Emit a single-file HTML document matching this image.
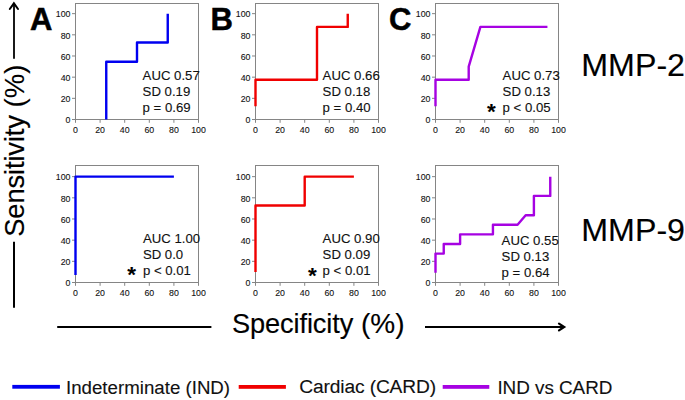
<!DOCTYPE html>
<html><head><meta charset="utf-8">
<style>
html,body{margin:0;padding:0;background:#fff;}
body{width:685px;height:400px;overflow:hidden;position:relative;}
svg{position:absolute;left:0;top:0;}
text{font-family:"Liberation Sans",sans-serif;fill:#1a1a1a;}
.tk{font-size:8.8px;fill:#111;stroke:#111;stroke-width:0.1px;}
.au{font-size:13.2px;fill:#111;stroke:#111;stroke-width:0.12px;}
.st{font-size:22.5px;font-weight:bold;fill:#000;}
.lt{font-size:31px;font-weight:bold;fill:#000;stroke:#000;stroke-width:0.5px;}
.big{font-size:27.2px;fill:#000;stroke:#000;stroke-width:0.15px;}
.mmp{font-size:32.2px;fill:#000;stroke:#000;stroke-width:0.15px;}
.lg{font-size:18.7px;fill:#111;stroke:#111;stroke-width:0.12px;}
</style></head>
<body>
<svg width="685" height="400" viewBox="0 0 685 400">
<rect x="0" y="0" width="685" height="400" fill="#fff"/>
<text x="30" y="30" class="lt">A</text>
<text x="210.5" y="30" class="lt">B</text>
<text x="389" y="30" class="lt">C</text>
<rect x="75.5" y="3.50" width="123.00" height="116.00" fill="none" stroke="#858585" stroke-width="1"/>
<line x1="72.0" y1="119.50" x2="75.5" y2="119.50" stroke="#858585" stroke-width="1"/>
<text x="70.5" y="123.30" class="tk" text-anchor="end">0</text>
<line x1="75.50" y1="119.5" x2="75.50" y2="122.8" stroke="#858585" stroke-width="1"/>
<text x="75.50" y="132.60" class="tk" text-anchor="middle">0</text>
<line x1="72.0" y1="98.33" x2="75.5" y2="98.33" stroke="#858585" stroke-width="1"/>
<text x="70.5" y="102.13" class="tk" text-anchor="end">20</text>
<line x1="100.10" y1="119.5" x2="100.10" y2="122.8" stroke="#858585" stroke-width="1"/>
<text x="100.10" y="132.60" class="tk" text-anchor="middle">20</text>
<line x1="72.0" y1="77.16" x2="75.5" y2="77.16" stroke="#858585" stroke-width="1"/>
<text x="70.5" y="80.96" class="tk" text-anchor="end">40</text>
<line x1="124.70" y1="119.5" x2="124.70" y2="122.8" stroke="#858585" stroke-width="1"/>
<text x="124.70" y="132.60" class="tk" text-anchor="middle">40</text>
<line x1="72.0" y1="55.99" x2="75.5" y2="55.99" stroke="#858585" stroke-width="1"/>
<text x="70.5" y="59.79" class="tk" text-anchor="end">60</text>
<line x1="149.30" y1="119.5" x2="149.30" y2="122.8" stroke="#858585" stroke-width="1"/>
<text x="149.30" y="132.60" class="tk" text-anchor="middle">60</text>
<line x1="72.0" y1="34.82" x2="75.5" y2="34.82" stroke="#858585" stroke-width="1"/>
<text x="70.5" y="38.62" class="tk" text-anchor="end">80</text>
<line x1="173.90" y1="119.5" x2="173.90" y2="122.8" stroke="#858585" stroke-width="1"/>
<text x="173.90" y="132.60" class="tk" text-anchor="middle">80</text>
<line x1="72.0" y1="13.65" x2="75.5" y2="13.65" stroke="#858585" stroke-width="1"/>
<text x="70.5" y="17.45" class="tk" text-anchor="end">100</text>
<line x1="198.50" y1="119.5" x2="198.50" y2="122.8" stroke="#858585" stroke-width="1"/>
<text x="198.50" y="132.60" class="tk" text-anchor="middle">100</text>
<path d="M106.25,119.50 L106.25,61.81 L137.00,61.81 L137.00,42.55 L167.75,42.55 L167.75,13.65" fill="none" stroke="#0000f0" stroke-width="2.4" stroke-linejoin="round" stroke-linecap="butt"/>
<text x="142.60" y="80.00" class="au">AUC 0.57</text>
<text x="142.60" y="96.00" class="au">SD 0.19</text>
<text x="142.60" y="112.00" class="au">p = 0.69</text>
<rect x="255.5" y="3.50" width="123.00" height="116.00" fill="none" stroke="#858585" stroke-width="1"/>
<line x1="252.0" y1="119.50" x2="255.5" y2="119.50" stroke="#858585" stroke-width="1"/>
<text x="250.5" y="123.30" class="tk" text-anchor="end">0</text>
<line x1="255.50" y1="119.5" x2="255.50" y2="122.8" stroke="#858585" stroke-width="1"/>
<text x="255.50" y="132.60" class="tk" text-anchor="middle">0</text>
<line x1="252.0" y1="98.33" x2="255.5" y2="98.33" stroke="#858585" stroke-width="1"/>
<text x="250.5" y="102.13" class="tk" text-anchor="end">20</text>
<line x1="280.10" y1="119.5" x2="280.10" y2="122.8" stroke="#858585" stroke-width="1"/>
<text x="280.10" y="132.60" class="tk" text-anchor="middle">20</text>
<line x1="252.0" y1="77.16" x2="255.5" y2="77.16" stroke="#858585" stroke-width="1"/>
<text x="250.5" y="80.96" class="tk" text-anchor="end">40</text>
<line x1="304.70" y1="119.5" x2="304.70" y2="122.8" stroke="#858585" stroke-width="1"/>
<text x="304.70" y="132.60" class="tk" text-anchor="middle">40</text>
<line x1="252.0" y1="55.99" x2="255.5" y2="55.99" stroke="#858585" stroke-width="1"/>
<text x="250.5" y="59.79" class="tk" text-anchor="end">60</text>
<line x1="329.30" y1="119.5" x2="329.30" y2="122.8" stroke="#858585" stroke-width="1"/>
<text x="329.30" y="132.60" class="tk" text-anchor="middle">60</text>
<line x1="252.0" y1="34.82" x2="255.5" y2="34.82" stroke="#858585" stroke-width="1"/>
<text x="250.5" y="38.62" class="tk" text-anchor="end">80</text>
<line x1="353.90" y1="119.5" x2="353.90" y2="122.8" stroke="#858585" stroke-width="1"/>
<text x="353.90" y="132.60" class="tk" text-anchor="middle">80</text>
<line x1="252.0" y1="13.65" x2="255.5" y2="13.65" stroke="#858585" stroke-width="1"/>
<text x="250.5" y="17.45" class="tk" text-anchor="end">100</text>
<line x1="378.50" y1="119.5" x2="378.50" y2="122.8" stroke="#858585" stroke-width="1"/>
<text x="378.50" y="132.60" class="tk" text-anchor="middle">100</text>
<path d="M255.50,106.27 L255.50,79.81 L317.00,79.81 L317.00,26.88 L347.75,26.88 L347.75,13.65" fill="none" stroke="#f00000" stroke-width="2.4" stroke-linejoin="round" stroke-linecap="butt"/>
<text x="322.60" y="80.00" class="au">AUC 0.66</text>
<text x="322.60" y="96.00" class="au">SD 0.18</text>
<text x="322.60" y="112.00" class="au">p = 0.40</text>
<rect x="435.5" y="3.50" width="123.00" height="116.00" fill="none" stroke="#858585" stroke-width="1"/>
<line x1="432.0" y1="119.50" x2="435.5" y2="119.50" stroke="#858585" stroke-width="1"/>
<text x="430.5" y="123.30" class="tk" text-anchor="end">0</text>
<line x1="435.50" y1="119.5" x2="435.50" y2="122.8" stroke="#858585" stroke-width="1"/>
<text x="435.50" y="132.60" class="tk" text-anchor="middle">0</text>
<line x1="432.0" y1="98.33" x2="435.5" y2="98.33" stroke="#858585" stroke-width="1"/>
<text x="430.5" y="102.13" class="tk" text-anchor="end">20</text>
<line x1="460.10" y1="119.5" x2="460.10" y2="122.8" stroke="#858585" stroke-width="1"/>
<text x="460.10" y="132.60" class="tk" text-anchor="middle">20</text>
<line x1="432.0" y1="77.16" x2="435.5" y2="77.16" stroke="#858585" stroke-width="1"/>
<text x="430.5" y="80.96" class="tk" text-anchor="end">40</text>
<line x1="484.70" y1="119.5" x2="484.70" y2="122.8" stroke="#858585" stroke-width="1"/>
<text x="484.70" y="132.60" class="tk" text-anchor="middle">40</text>
<line x1="432.0" y1="55.99" x2="435.5" y2="55.99" stroke="#858585" stroke-width="1"/>
<text x="430.5" y="59.79" class="tk" text-anchor="end">60</text>
<line x1="509.30" y1="119.5" x2="509.30" y2="122.8" stroke="#858585" stroke-width="1"/>
<text x="509.30" y="132.60" class="tk" text-anchor="middle">60</text>
<line x1="432.0" y1="34.82" x2="435.5" y2="34.82" stroke="#858585" stroke-width="1"/>
<text x="430.5" y="38.62" class="tk" text-anchor="end">80</text>
<line x1="533.90" y1="119.5" x2="533.90" y2="122.8" stroke="#858585" stroke-width="1"/>
<text x="533.90" y="132.60" class="tk" text-anchor="middle">80</text>
<line x1="432.0" y1="13.65" x2="435.5" y2="13.65" stroke="#858585" stroke-width="1"/>
<text x="430.5" y="17.45" class="tk" text-anchor="end">100</text>
<line x1="558.50" y1="119.5" x2="558.50" y2="122.8" stroke="#858585" stroke-width="1"/>
<text x="558.50" y="132.60" class="tk" text-anchor="middle">100</text>
<path d="M435.50,106.27 L435.50,79.81 L468.71,79.81 L468.71,66.58 L480.39,26.88 L547.43,26.88" fill="none" stroke="#a602e2" stroke-width="2.4" stroke-linejoin="round" stroke-linecap="butt"/>
<text x="502.60" y="80.00" class="au">AUC 0.73</text>
<text x="502.60" y="96.00" class="au">SD 0.13</text>
<text x="502.60" y="112.00" class="au">p &lt; 0.05</text>
<text x="487.00" y="119.00" class="st">*</text>
<rect x="75.5" y="165.50" width="123.00" height="117.00" fill="none" stroke="#858585" stroke-width="1"/>
<line x1="72.0" y1="282.50" x2="75.5" y2="282.50" stroke="#858585" stroke-width="1"/>
<text x="70.5" y="286.30" class="tk" text-anchor="end">0</text>
<line x1="75.50" y1="282.5" x2="75.50" y2="285.8" stroke="#858585" stroke-width="1"/>
<text x="75.50" y="295.60" class="tk" text-anchor="middle">0</text>
<line x1="72.0" y1="261.33" x2="75.5" y2="261.33" stroke="#858585" stroke-width="1"/>
<text x="70.5" y="265.13" class="tk" text-anchor="end">20</text>
<line x1="100.10" y1="282.5" x2="100.10" y2="285.8" stroke="#858585" stroke-width="1"/>
<text x="100.10" y="295.60" class="tk" text-anchor="middle">20</text>
<line x1="72.0" y1="240.16" x2="75.5" y2="240.16" stroke="#858585" stroke-width="1"/>
<text x="70.5" y="243.96" class="tk" text-anchor="end">40</text>
<line x1="124.70" y1="282.5" x2="124.70" y2="285.8" stroke="#858585" stroke-width="1"/>
<text x="124.70" y="295.60" class="tk" text-anchor="middle">40</text>
<line x1="72.0" y1="218.99" x2="75.5" y2="218.99" stroke="#858585" stroke-width="1"/>
<text x="70.5" y="222.79" class="tk" text-anchor="end">60</text>
<line x1="149.30" y1="282.5" x2="149.30" y2="285.8" stroke="#858585" stroke-width="1"/>
<text x="149.30" y="295.60" class="tk" text-anchor="middle">60</text>
<line x1="72.0" y1="197.82" x2="75.5" y2="197.82" stroke="#858585" stroke-width="1"/>
<text x="70.5" y="201.62" class="tk" text-anchor="end">80</text>
<line x1="173.90" y1="282.5" x2="173.90" y2="285.8" stroke="#858585" stroke-width="1"/>
<text x="173.90" y="295.60" class="tk" text-anchor="middle">80</text>
<line x1="72.0" y1="176.65" x2="75.5" y2="176.65" stroke="#858585" stroke-width="1"/>
<text x="70.5" y="180.45" class="tk" text-anchor="end">100</text>
<line x1="198.50" y1="282.5" x2="198.50" y2="285.8" stroke="#858585" stroke-width="1"/>
<text x="198.50" y="295.60" class="tk" text-anchor="middle">100</text>
<path d="M75.50,274.98 L75.50,176.65 L173.90,176.65" fill="none" stroke="#0000f0" stroke-width="2.4" stroke-linejoin="round" stroke-linecap="butt"/>
<text x="142.90" y="243.00" class="au">AUC 1.00</text>
<text x="142.90" y="259.00" class="au">SD 0.0</text>
<text x="142.90" y="275.00" class="au">p &lt; 0.01</text>
<text x="127.20" y="281.60" class="st">*</text>
<rect x="255.5" y="165.50" width="123.00" height="117.00" fill="none" stroke="#858585" stroke-width="1"/>
<line x1="252.0" y1="282.50" x2="255.5" y2="282.50" stroke="#858585" stroke-width="1"/>
<text x="250.5" y="286.30" class="tk" text-anchor="end">0</text>
<line x1="255.50" y1="282.5" x2="255.50" y2="285.8" stroke="#858585" stroke-width="1"/>
<text x="255.50" y="295.60" class="tk" text-anchor="middle">0</text>
<line x1="252.0" y1="261.33" x2="255.5" y2="261.33" stroke="#858585" stroke-width="1"/>
<text x="250.5" y="265.13" class="tk" text-anchor="end">20</text>
<line x1="280.10" y1="282.5" x2="280.10" y2="285.8" stroke="#858585" stroke-width="1"/>
<text x="280.10" y="295.60" class="tk" text-anchor="middle">20</text>
<line x1="252.0" y1="240.16" x2="255.5" y2="240.16" stroke="#858585" stroke-width="1"/>
<text x="250.5" y="243.96" class="tk" text-anchor="end">40</text>
<line x1="304.70" y1="282.5" x2="304.70" y2="285.8" stroke="#858585" stroke-width="1"/>
<text x="304.70" y="295.60" class="tk" text-anchor="middle">40</text>
<line x1="252.0" y1="218.99" x2="255.5" y2="218.99" stroke="#858585" stroke-width="1"/>
<text x="250.5" y="222.79" class="tk" text-anchor="end">60</text>
<line x1="329.30" y1="282.5" x2="329.30" y2="285.8" stroke="#858585" stroke-width="1"/>
<text x="329.30" y="295.60" class="tk" text-anchor="middle">60</text>
<line x1="252.0" y1="197.82" x2="255.5" y2="197.82" stroke="#858585" stroke-width="1"/>
<text x="250.5" y="201.62" class="tk" text-anchor="end">80</text>
<line x1="353.90" y1="282.5" x2="353.90" y2="285.8" stroke="#858585" stroke-width="1"/>
<text x="353.90" y="295.60" class="tk" text-anchor="middle">80</text>
<line x1="252.0" y1="176.65" x2="255.5" y2="176.65" stroke="#858585" stroke-width="1"/>
<text x="250.5" y="180.45" class="tk" text-anchor="end">100</text>
<line x1="378.50" y1="282.5" x2="378.50" y2="285.8" stroke="#858585" stroke-width="1"/>
<text x="378.50" y="295.60" class="tk" text-anchor="middle">100</text>
<path d="M255.50,271.92 L255.50,205.55 L304.70,205.55 L304.70,176.65 L353.90,176.65" fill="none" stroke="#f00000" stroke-width="2.4" stroke-linejoin="round" stroke-linecap="butt"/>
<text x="322.60" y="243.30" class="au">AUC 0.90</text>
<text x="322.60" y="259.30" class="au">SD 0.09</text>
<text x="322.60" y="275.30" class="au">p &lt; 0.01</text>
<text x="308.00" y="282.50" class="st">*</text>
<rect x="435.5" y="165.50" width="123.00" height="117.00" fill="none" stroke="#858585" stroke-width="1"/>
<line x1="432.0" y1="282.50" x2="435.5" y2="282.50" stroke="#858585" stroke-width="1"/>
<text x="430.5" y="286.30" class="tk" text-anchor="end">0</text>
<line x1="435.50" y1="282.5" x2="435.50" y2="285.8" stroke="#858585" stroke-width="1"/>
<text x="435.50" y="295.60" class="tk" text-anchor="middle">0</text>
<line x1="432.0" y1="261.33" x2="435.5" y2="261.33" stroke="#858585" stroke-width="1"/>
<text x="430.5" y="265.13" class="tk" text-anchor="end">20</text>
<line x1="460.10" y1="282.5" x2="460.10" y2="285.8" stroke="#858585" stroke-width="1"/>
<text x="460.10" y="295.60" class="tk" text-anchor="middle">20</text>
<line x1="432.0" y1="240.16" x2="435.5" y2="240.16" stroke="#858585" stroke-width="1"/>
<text x="430.5" y="243.96" class="tk" text-anchor="end">40</text>
<line x1="484.70" y1="282.5" x2="484.70" y2="285.8" stroke="#858585" stroke-width="1"/>
<text x="484.70" y="295.60" class="tk" text-anchor="middle">40</text>
<line x1="432.0" y1="218.99" x2="435.5" y2="218.99" stroke="#858585" stroke-width="1"/>
<text x="430.5" y="222.79" class="tk" text-anchor="end">60</text>
<line x1="509.30" y1="282.5" x2="509.30" y2="285.8" stroke="#858585" stroke-width="1"/>
<text x="509.30" y="295.60" class="tk" text-anchor="middle">60</text>
<line x1="432.0" y1="197.82" x2="435.5" y2="197.82" stroke="#858585" stroke-width="1"/>
<text x="430.5" y="201.62" class="tk" text-anchor="end">80</text>
<line x1="533.90" y1="282.5" x2="533.90" y2="285.8" stroke="#858585" stroke-width="1"/>
<text x="533.90" y="295.60" class="tk" text-anchor="middle">80</text>
<line x1="432.0" y1="176.65" x2="435.5" y2="176.65" stroke="#858585" stroke-width="1"/>
<text x="430.5" y="180.45" class="tk" text-anchor="end">100</text>
<line x1="558.50" y1="282.5" x2="558.50" y2="285.8" stroke="#858585" stroke-width="1"/>
<text x="558.50" y="295.60" class="tk" text-anchor="middle">100</text>
<path d="M435.50,272.87 L435.50,253.60 L443.74,253.60 L443.74,243.97 L460.10,243.97 L460.10,234.34 L492.94,234.34 L492.94,224.81 L517.54,224.81 L525.66,215.18 L533.90,215.18 L533.90,195.91 L550.26,195.91 L550.26,176.65" fill="none" stroke="#a602e2" stroke-width="2.4" stroke-linejoin="round" stroke-linecap="butt"/>
<text x="501.60" y="244.70" class="au">AUC 0.55</text>
<text x="501.60" y="260.70" class="au">SD 0.13</text>
<text x="501.60" y="276.70" class="au">p = 0.64</text>
<text x="581.3" y="76.4" class="mmp">MMP-2</text>
<text x="581.3" y="241.4" class="mmp">MMP-9</text>
<!-- y axis label + arrows -->
<line x1="14" y1="307.7" x2="14" y2="241.8" stroke="#000" stroke-width="2"/>
<line x1="14" y1="58.7" x2="14" y2="4" stroke="#000" stroke-width="1.8"/>
<path d="M9.8,9.0 L13.9,3.3 L18,9.0" fill="none" stroke="#000" stroke-width="2" stroke-linejoin="miter" stroke-linecap="round"/>
<text transform="translate(24,236.8) rotate(-90)" class="big" style="font-size:27.4px" textLength="121.8" lengthAdjust="spacing">Sensitivity</text>
<text transform="translate(24,107.4) rotate(-90)" class="big" style="font-size:27.6px">(%)</text>
<!-- x axis label + arrows -->
<line x1="57.2" y1="327" x2="211.4" y2="327" stroke="#000" stroke-width="2"/>
<text x="232.1" y="332.6" class="big" textLength="121.2" lengthAdjust="spacing">Specificity</text>
<text x="361" y="332.6" class="big" style="font-size:28px">(%)</text>
<line x1="425" y1="327" x2="564" y2="327" stroke="#000" stroke-width="2"/>
<path d="M559,323.6 L564.2,327 L559,330.4" fill="none" stroke="#000" stroke-width="2.2" stroke-linejoin="miter" stroke-linecap="round"/>
<!-- legend -->
<rect x="12.3" y="384.9" width="47.6" height="3.8" fill="#0000f0"/>
<text x="66" y="393.6" class="lg">Indeterminate (IND)</text>
<rect x="238.7" y="385" width="47.2" height="3.8" fill="#f00000"/>
<text x="299.3" y="393.3" class="lg" style="font-size:19.2px" textLength="136.8" lengthAdjust="spacing">Cardiac (CARD)</text>
<rect x="442.7" y="385" width="46.6" height="3.8" fill="#a602e2"/>
<text x="497.4" y="393.6" class="lg" style="font-size:18.9px" textLength="115" lengthAdjust="spacing">IND vs CARD</text>
</svg>
</body></html>
